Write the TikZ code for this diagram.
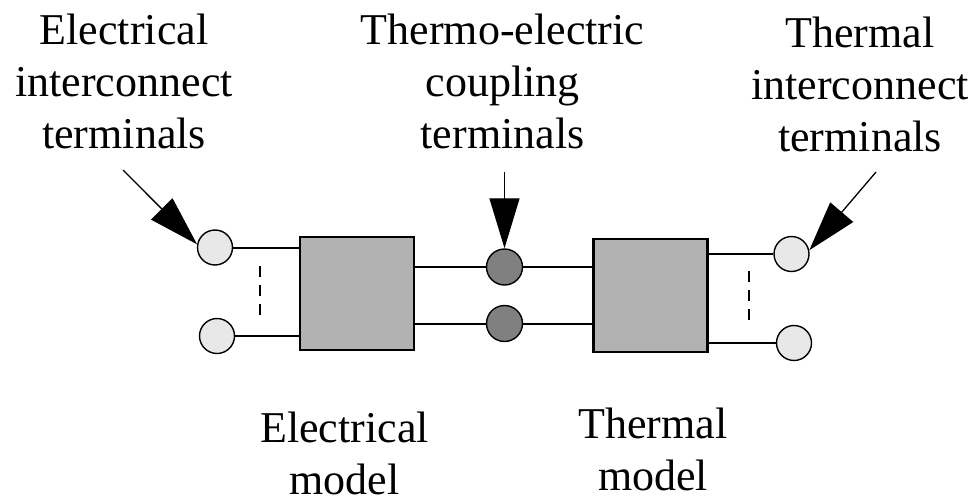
\documentclass[tikz,border=0pt]{standalone}
\usepackage{fontspec}
\setmainfont{Liberation Serif}
\usetikzlibrary{arrows.meta}
\begin{document}
\begin{tikzpicture}[x=1pt,y=-1pt,
  box/.style={draw, line width=2.2pt, fill=black!30, minimum width=114pt, minimum height=113pt, inner sep=0pt},
  lterm/.style={circle, draw, line width=1.4pt, fill=black!9, minimum size=35pt, inner sep=0pt},
  dterm/.style={circle, draw, line width=1.4pt, fill=black!50, minimum size=36pt, inner sep=0pt},
  wire/.style={line width=2pt},
  vdash/.style={line width=1.6pt, dash pattern=on 11pt off 8pt},
  pointer/.style={line width=1.3pt, -{Triangle[length=50pt,width=30pt]}},
  lbl/.style={font=\fontsize{44}{52}\selectfont, align=center, anchor=base, inner sep=0pt}
]
\useasboundingbox (0,0) rectangle (976,503);

% model boxes
\node[box] (lbox) at (357,293.5) {};
\node[box] (rbox) at (650.5,295.5) {};

% terminals
\node[lterm] (lt) at (215,247.5) {};
\node[lterm] (lb) at (217,336) {};
\node[dterm] (mt) at (504.5,267) {};
\node[dterm] (mb) at (504.5,323.5) {};
\node[lterm] (rt) at (791.5,254) {};
\node[lterm] (rb) at (794,343) {};

% wires
\draw[wire] (lt.east) -- (lt.east -| lbox.west);
\draw[wire] (lb.east) -- (lb.east -| lbox.west);
\draw[wire] (mt.west -| lbox.east) -- (mt.west);
\draw[wire] (mb.west -| lbox.east) -- (mb.west);
\draw[wire] (mt.east) -- (mt.east -| rbox.west);
\draw[wire] (mb.east) -- (mb.east -| rbox.west);
\draw[wire] (rt.west -| rbox.east) -- (rt.west);
\draw[wire] (rb.west -| rbox.east) -- (rb.west);

% dashed ellipsis lines
\coordinate (ld1) at (260,266); \coordinate (ld2) at (260,321);
\coordinate (rd1) at (749,271); \coordinate (rd2) at (749,323);
\draw[vdash] (ld1) -- (ld2);
\draw[vdash] (rd1) -- (rd2);

% pointers
\coordinate (ltail) at (123,170);
\coordinate (mtail) at (504.5,172);
\coordinate (rtail) at (876,172);
\draw[pointer] (ltail) -- (lt.170);
\draw[pointer] (mtail) -- (mt.north);
\draw[pointer] (rtail) -- (rt.12);

% labels (base anchor = baseline of last line)
\node[lbl] (tl) at (124,148) {Electrical\\interconnect\\terminals};
\node[lbl] (tm) at (502.5,148) {Thermo-electric\\coupling\\terminals};
\node[lbl] (tr) at (860,151) {Thermal\\interconnect\\terminals};
\node[lbl] (bl) at (344.5,494) {Electrical\\model};
\node[lbl] (br) at (653,490) {Thermal\\model};
\end{tikzpicture}
\end{document}
